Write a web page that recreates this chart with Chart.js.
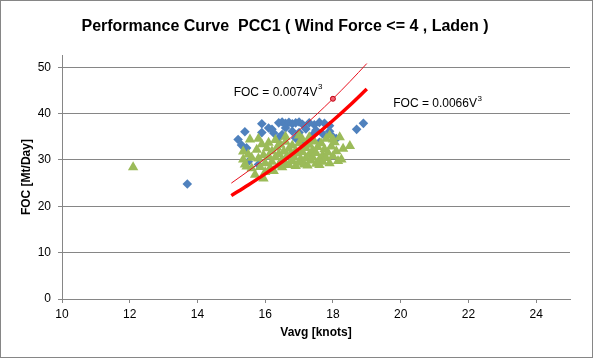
<!DOCTYPE html>
<html>
<head>
<meta charset="utf-8">
<script src="https://cdn.jsdelivr.net/npm/chart.js@4.4.0/dist/chart.umd.min.js"></script>
<style>
  html, body { margin: 0; padding: 0; background: #fff; }
</style>
</head>
<body>
<canvas id="chart" width="593" height="358"></canvas>
<script>
// axis ticks
const xTicks = [10, 12, 14, 16, 18, 20, 22, 24];
const yTicks = [0, 10, 20, 30, 40, 50];

// blue diamonds (V, FOC)
const blueV = [13.7, 15.2, 15.4, 15.3, 15.45, 15.5, 15.8, 15.9, 15.9, 16.1, 16.25, 16.4, 16.2,
  16.4, 16.5, 16.6, 16.7, 16.8, 16.9, 17.0, 17.1, 17.3, 17.45, 17.6, 17.75, 17.9,
  16.6, 16.8, 17.0, 17.2, 17.4, 17.5, 17.7, 17.9, 18.0, 16.9, 17.3, 17.6, 18.1, 16.5, 17.1,
  18.7, 18.9];
const blueFoc = [24.8, 34.4, 36.1, 33.2, 32.6, 29.6, 29.0, 37.8, 35.9, 36.9, 35.8, 34.8, 36.6,
  38.0, 38.2, 37.9, 38.1, 37.8, 38.0, 38.2, 37.7, 38.0, 37.6, 38.1, 37.9, 37.4,
  36.9, 36.2, 35.9, 36.7, 35.4, 36.4, 35.6, 36.2, 35.0, 34.7, 34.2, 33.8, 34.6, 35.5, 33.5,
  36.6, 37.9];

// green triangles (V, FOC)
const greenV = [12.1,
  15.35, 15.4, 15.45, 15.5, 15.55, 15.35, 15.6, 15.6,
  15.7, 15.75, 15.8, 15.85, 15.9, 15.95, 15.95, 16.0, 16.0, 15.8,
  16.1, 16.1, 16.15, 16.2, 16.2, 16.25, 16.3, 16.3, 16.35, 16.4, 16.4, 16.05,
  16.45, 16.5, 16.5, 16.55, 16.6, 16.6, 16.65, 16.7, 16.7, 16.75, 16.8, 16.8, 16.45,
  16.85, 16.9, 16.9, 16.95, 17.0, 17.0, 17.05, 17.1, 17.1, 17.15, 17.2, 17.2,
  17.25, 17.3, 17.3, 17.35, 17.4, 17.4, 17.45, 17.5, 17.5, 17.55, 17.6, 17.6,
  17.65, 17.7, 17.7, 17.75, 17.8, 17.8, 17.85, 17.9, 17.95, 18.0, 18.0, 17.9,
  18.05, 18.1, 18.15, 18.25, 18.3, 18.5, 18.2,
  16.6, 17.0, 17.3];
const greenFoc = [28.4,
  30.1, 29.0, 28.6, 31.2, 34.4, 31.8, 30.5, 28.2,
  26.8, 32.2, 30.3, 28.5, 33.4, 26.0, 31.0, 29.3, 27.4, 34.6,
  33.7, 30.8, 28.3, 31.9, 29.6, 27.6, 34.3, 30.6, 32.7, 28.8, 31.3, 32.5,
  33.3, 30.1, 28.4, 31.8, 29.3, 33.9, 30.9, 32.4, 28.9, 31.1, 29.7, 33.1, 29.5,
  30.6, 32.0, 28.7, 31.4, 29.4, 33.6, 30.2, 34.4, 31.7, 29.0, 32.6, 30.4,
  28.8, 31.2, 33.3, 29.9, 32.1, 30.6, 34.0, 29.2, 31.5, 32.8, 30.1, 28.9,
  33.6, 31.0, 29.6, 32.3, 30.4, 34.6, 31.6, 29.3, 32.9, 34.4, 30.8, 35.3,
  33.8, 31.9, 29.8, 30.1, 32.4, 33.0, 34.9,
  35.0, 35.3, 34.9];

// fitted curves
const curveV = [15, 15.5, 16, 16.5, 17, 17.5, 18, 18.5, 19];
const curveFocLow = [22.3, 24.6, 27.0, 29.6, 32.4, 35.4, 38.5, 41.8, 45.3];   // FOC = 0.0066V^3
const curveFocHigh = [25.0, 27.6, 30.3, 33.2, 36.4, 39.7, 43.2, 46.9, 50.8];  // FOC = 0.0074V^3
const highMarkerV = 18;

const labels = [
  { text: 'FOC = 0.0074V', sup: '3', v: 15.07, foc: 44.6 },
  { text: 'FOC = 0.0066V', sup: '3', v: 19.78, foc: 42.2 }
];

const toPoints = (xs, ys) => xs.map((x, i) => ({ x: x, y: ys[i] }));

const extras = {
  id: 'extras',
  afterDatasetsDraw(chart) {
    const { ctx, scales } = chart;
    ctx.save();
    ctx.fillStyle = '#000';
    ctx.textBaseline = 'middle';
    ctx.textAlign = 'left';
    labels.forEach(l => {
      const px = scales.x.getPixelForValue(l.v);
      const py = scales.y.getPixelForValue(l.foc);
      ctx.font = '12px "Liberation Sans", Arial, sans-serif';
      ctx.fillText(l.text, px, py);
      const w = ctx.measureText(l.text).width;
      ctx.font = '8px "Liberation Sans", Arial, sans-serif';
      ctx.fillText(l.sup, px + w + 0.5, py - 5);
    });
    ctx.restore();
  },
  afterDraw(chart) {
    const ctx = chart.ctx;
    ctx.save();
    ctx.strokeStyle = '#868686';
    ctx.lineWidth = 1;
    ctx.strokeRect(0.5, 0.5, chart.width - 1, chart.height - 1);
    ctx.restore();
  }
};

new Chart(document.getElementById('chart'), {
  type: 'scatter',
  data: {
    datasets: [
      {
        label: 'FOC = 0.0074V3',
        data: toPoints(curveV, curveFocHigh),
        showLine: true,
        borderColor: '#E8101E',
        borderWidth: 1,
        cubicInterpolationMode: 'monotone',
        pointRadius: curveV.map(v => v === highMarkerV ? 2.5 : 0),
        pointBackgroundColor: '#F06070',
        pointBorderColor: '#C00010',
        pointBorderWidth: 1
      },
      {
        label: 'FOC = 0.0066V3',
        data: toPoints(curveV, curveFocLow),
        showLine: true,
        borderColor: '#FF0000',
        borderWidth: 3.5,
        cubicInterpolationMode: 'monotone',
        pointRadius: 0
      },
      {
        label: 'Laden',
        data: toPoints(greenV, greenFoc),
        pointStyle: 'triangle',
        pointRadius: 6,
        backgroundColor: '#9BBB59',
        borderColor: '#9BBB59',
        borderWidth: 0
      },
      {
        label: 'Laden 2',
        data: toPoints(blueV, blueFoc),
        pointStyle: 'rectRot',
        pointRadius: 4.8,
        backgroundColor: '#4F81BD',
        borderColor: '#4F81BD',
        borderWidth: 0
      }
    ]
  },
  options: {
    responsive: false,
    animation: false,
    layout: { padding: { left: 0, right: 23, top: 0, bottom: 0 } },
    plugins: {
      legend: { display: false },
      tooltip: { enabled: false },
      title: {
        display: true,
        text: 'Performance Curve  PCC1 ( Wind Force <= 4 , Laden )',
        color: '#000',
        font: { family: '"Liberation Sans", Arial, sans-serif', size: 16, weight: 'bold' },
        padding: { top: 17, bottom: 19 }
      }
    },
    scales: {
      x: {
        type: 'linear',
        min: 10,
        max: 25,
        afterBuildTicks: scale => { scale.ticks = xTicks.map(v => ({ value: v })); },
        afterFit: scale => { scale.height = 59; },
        grid: { drawOnChartArea: false, drawTicks: true, tickLength: 4, color: '#868686' },
        border: { display: true, color: '#868686' },
        ticks: { color: '#000', padding: 4, maxRotation: 0, font: { family: '"Liberation Sans", Arial, sans-serif', size: 12 } },
        title: {
          display: true,
          text: 'Vavg [knots]',
          color: '#000',
          font: { family: '"Liberation Sans", Arial, sans-serif', size: 12, weight: 'bold' },
          padding: { top: 0, bottom: 18 }
        }
      },
      y: {
        type: 'linear',
        min: 0,
        max: 52.6,
        afterBuildTicks: scale => { scale.ticks = yTicks.map(v => ({ value: v })); },
        afterFit: scale => { scale.width = 62; },
        grid: { color: '#868686', tickLength: 4 },
        border: { display: true, color: '#868686' },
        ticks: { color: '#000', padding: 7, font: { family: '"Liberation Sans", Arial, sans-serif', size: 12 } },
        title: {
          display: true,
          text: 'FOC [Mt/Day]',
          color: '#000',
          font: { family: '"Liberation Sans", Arial, sans-serif', size: 12, weight: 'bold' },
          padding: { top: 19, bottom: 0 }
        }
      }
    }
  },
  plugins: [extras]
});
</script>
</body>
</html>
